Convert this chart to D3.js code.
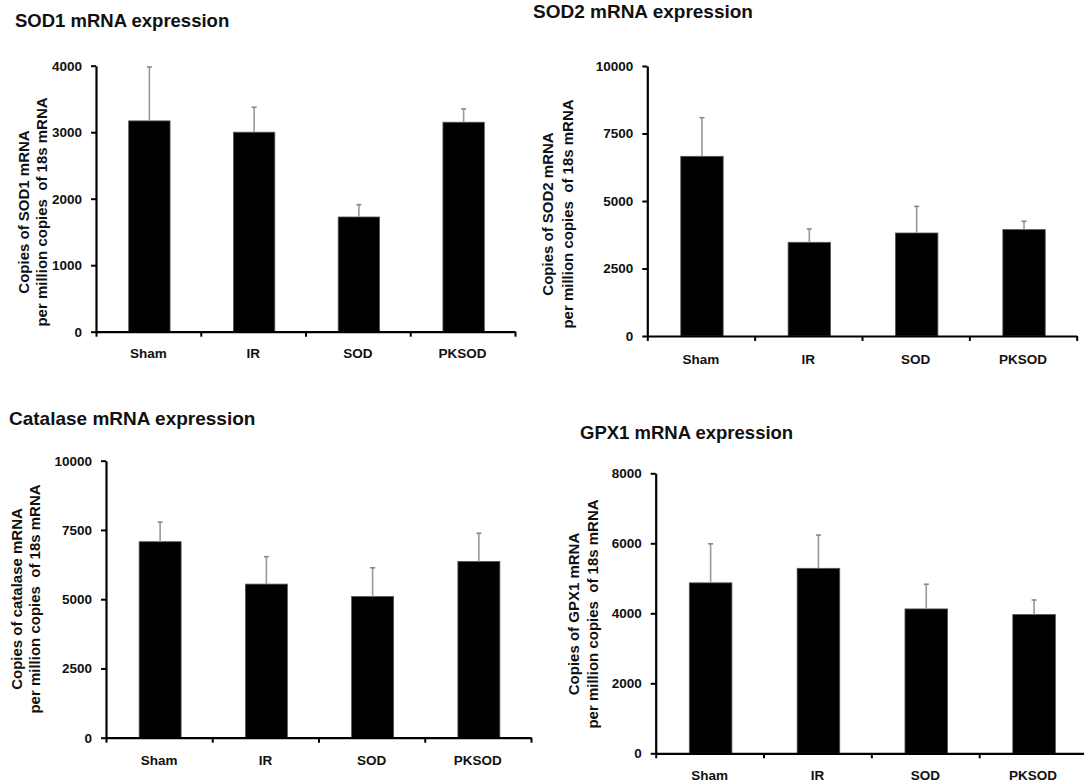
<!DOCTYPE html>
<html>
<head>
<meta charset="utf-8">
<script src="https://cdn.jsdelivr.net/npm/d3@7"></script>
<style>
  html, body { margin: 0; padding: 0; background: #fff; }
  svg { display: block; }
  text { font-family: "Liberation Sans", Arial, Helvetica, sans-serif; font-weight: bold; fill: #111; }
</style>
</head>
<body>
<svg id="chart" width="1084" height="784"></svg>
<script>
// Treatment groups shown on every panel
const categories = ["Sham", "IR", "SOD", "PKSOD"];

// Mean copies per million copies of 18s mRNA, with the upper error (SD)
const sod1Mean = [3170, 3000, 1725, 3150];
const sod1Err  = [810, 375, 185, 200];

const sod2Mean = [6655, 3470, 3815, 3940];
const sod2Err  = [1430, 495, 985, 310];

const catalaseMean = [7075, 5545, 5095, 6365];
const catalaseErr  = [705, 990, 1040, 1015];

const gpx1Mean = [4870, 5285, 4125, 3965];
const gpx1Err  = [1115, 950, 705, 415];

// Y-axis tick values per panel
const sod1Ticks = [0, 1000, 2000, 3000, 4000];
const sod2Ticks = [0, 2500, 5000, 7500, 10000];
const catalaseTicks = [0, 2500, 5000, 7500, 10000];
const gpx1Ticks = [0, 2000, 4000, 6000, 8000];

// Text
const titles = ["SOD1 mRNA expression", "SOD2 mRNA expression", "Catalase mRNA expression", "GPX1 mRNA expression"];
const yTitleLine1 = ["Copies of SOD1 mRNA", "Copies of SOD2 mRNA", "Copies of catalase mRNA", "Copies of GPX1 mRNA"];
const yTitleLine2 = "per million copies\u00a0\u00a0of 18s mRNA";

// Panel geometry (pixel layout on the page)
const panels = [
  { title: titles[0], l1: yTitleLine1[0], mean: sod1Mean, err: sod1Err, ticks: sod1Ticks,
    left: 96, right: 515, top: 65.7, bottom: 331.7,
    titleX: 15, titleY: 26.7, titleSize: 18.5,
    yt1X: 28.5, yt2X: 47, ytY: 212, labelY: 357.5 },
  { title: titles[1], l1: yTitleLine1[1], mean: sod2Mean, err: sod2Err, ticks: sod2Ticks,
    left: 647.3, right: 1076.7, top: 66, bottom: 336,
    titleX: 533, titleY: 18.3, titleSize: 19,
    yt1X: 553, yt2X: 573, ytY: 214, labelY: 364 },
  { title: titles[2], l1: yTitleLine1[2], mean: catalaseMean, err: catalaseErr, ticks: catalaseTicks,
    left: 106, right: 531, top: 460.7, bottom: 737.7,
    titleX: 9, titleY: 425, titleSize: 19,
    yt1X: 22, yt2X: 39.5, ytY: 599, labelY: 765 },
  { title: titles[3], l1: yTitleLine1[3], mean: gpx1Mean, err: gpx1Err, ticks: gpx1Ticks,
    left: 655.7, right: 1087, top: 473.3, bottom: 753.3,
    titleX: 580, titleY: 439.3, titleSize: 18.5,
    yt1X: 578.5, yt2X: 598, ytY: 614, labelY: 780 }
];

const svg = d3.select("#chart");

panels.forEach(p => {
  const g = svg.append("g");

  const x = d3.scaleBand().domain(categories).range([p.left, p.right]).paddingInner(0).paddingOuter(0);
  const xIndex = d3.scaleLinear().domain([0, categories.length]).range([p.left, p.right]);
  const yMax = p.ticks[p.ticks.length - 1];
  const y = d3.scaleLinear().domain([0, yMax]).range([p.bottom, p.top]);
  const barW = x.bandwidth() * 0.395;

  // Title
  g.append("text")
    .attr("x", p.titleX).attr("y", p.titleY)
    .style("font-size", p.titleSize + "px")
    .text(p.title);

  // Y-axis title (two lines, rotated)
  g.append("text")
    .attr("transform", `translate(${p.yt1X},${p.ytY}) rotate(-90)`)
    .attr("text-anchor", "middle")
    .style("font-size", "15px")
    .text(p.l1);
  g.append("text")
    .attr("transform", `translate(${p.yt2X},${p.ytY}) rotate(-90)`)
    .attr("text-anchor", "middle")
    .style("font-size", "15px")
    .text(yTitleLine2);

  // Bars
  g.selectAll("rect.bar").data(categories).enter().append("rect")
    .attr("class", "bar")
    .attr("x", d => x(d) + (x.bandwidth() - barW) / 2 + 1)
    .attr("width", barW)
    .attr("y", (d, i) => y(p.mean[i]))
    .attr("height", (d, i) => y(0) - y(p.mean[i]))
    .attr("fill", "#000")
    .attr("stroke", "#555")
    .attr("stroke-width", 0.8);

  // Error bars (upper only)
  const eb = g.selectAll("g.err").data(categories).enter().append("g").attr("class", "err");
  eb.append("line")
    .attr("x1", d => x(d) + x.bandwidth() / 2 + 1)
    .attr("x2", d => x(d) + x.bandwidth() / 2 + 1)
    .attr("y1", (d, i) => y(p.mean[i]))
    .attr("y2", (d, i) => y(p.mean[i] + p.err[i]))
    .attr("stroke", "#999").attr("stroke-width", 1.6);
  eb.append("line")
    .attr("x1", d => x(d) + x.bandwidth() / 2 + 1 - 2.5)
    .attr("x2", d => x(d) + x.bandwidth() / 2 + 1 + 2.5)
    .attr("y1", (d, i) => y(p.mean[i] + p.err[i]))
    .attr("y2", (d, i) => y(p.mean[i] + p.err[i]))
    .attr("stroke", "#888").attr("stroke-width", 1.6);

  // Y axis
  const yAxis = g.append("g")
    .attr("transform", `translate(${p.left},0)`)
    .call(d3.axisLeft(y).tickValues(p.ticks).tickFormat(d3.format("d"))
      .tickSize(5).tickSizeOuter(0).tickPadding(9));
  yAxis.select(".domain").attr("stroke", "#000").attr("stroke-width", 2.2);
  yAxis.selectAll(".tick line").attr("stroke", "#000").attr("stroke-width", 2);
  yAxis.selectAll(".tick text")
    .style("font-size", "13.5px")
    .style("font-family", "'Liberation Sans', Arial, sans-serif")
    .style("font-weight", "bold")
    .attr("fill", "#111");

  // X axis: baseline with ticks at band boundaries
  const xAxis = g.append("g")
    .attr("transform", `translate(0,${p.bottom})`)
    .call(d3.axisBottom(xIndex).tickValues(d3.range(categories.length + 1)).tickSize(5).tickSizeOuter(0).tickFormat(""));
  xAxis.select(".domain").attr("stroke", "#000").attr("stroke-width", 2.2);
  xAxis.selectAll(".tick line").attr("stroke", "#000").attr("stroke-width", 2);

  // Category labels
  g.selectAll("text.cat").data(categories).enter().append("text")
    .attr("class", "cat")
    .attr("x", d => x(d) + x.bandwidth() / 2)
    .attr("y", p.labelY)
    .attr("text-anchor", "middle")
    .style("font-size", "13.5px")
    .text(d => d);
});
</script>
</body>
</html>
